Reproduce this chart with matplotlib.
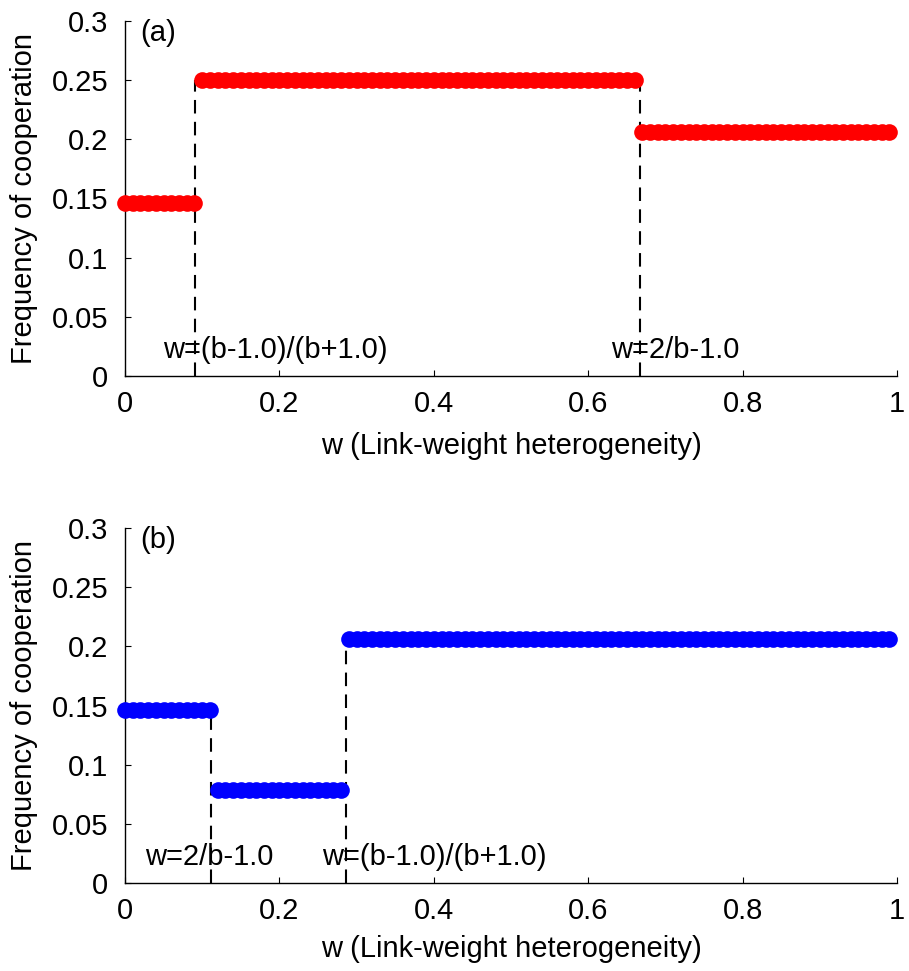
import numpy as np
import matplotlib
matplotlib.use("Agg")
import matplotlib.pyplot as plt

plt.rcParams['font.family'] = ['Liberation Sans', 'DejaVu Sans']

# w sampled at 0.00 .. 0.99 in steps of 0.01
w = np.arange(100) / 100.0

# panel (a): level of each plateau and number of points on it
a_levels = [0.146, 0.250, 0.206]
a_counts = [10, 57, 33]
a_crit = [0.0909, 0.6667]          # (b-1)/(b+1), 2/b-1 with b=1.2
a_labels = ["w=(b-1.0)/(b+1.0)", "w=2/b-1.0"]
a_label_x = [0.049, 0.63]

# panel (b)
b_levels = [0.146, 0.079, 0.206]
b_counts = [12, 17, 71]
b_crit = [0.1111, 0.2857]          # 2/b-1, (b-1)/(b+1) with b=1.8
b_labels = ["w=2/b-1.0", "w=(b-1.0)/(b+1.0)"]
b_label_x = [0.026, 0.255]

FS = 21

fig = plt.figure(figsize=(9.09, 9.71), dpi=100)
ax_a = fig.add_axes([0.1375, 0.6128, 0.8493, 0.3656])
ax_b = fig.add_axes([0.1375, 0.0906, 0.8493, 0.3656])


def draw(ax, levels, counts, crit, labels, label_x, color, tag, xlabelpad):
    y = np.repeat(levels, counts)
    ax.plot(w, y, 'o', color=color, markersize=12, markeredgewidth=0,
            clip_on=False, zorder=3)
    for i, c in enumerate(crit):
        top = max(levels[i], levels[i + 1])
        ax.plot([c, c], [0, top], color='black', linestyle=(0, (6.5, 4)),
                linewidth=1.5, zorder=2)
    for lx, txt in zip(label_x, labels):
        ax.text(lx, 0.022, txt, fontsize=FS, ha='left', va='center', zorder=4)
    ax.text(0.02, 0.29, tag, fontsize=FS, ha='left', va='center')

    ax.set_xlim(0, 1)
    ax.set_ylim(0, 0.3)
    ax.set_xticks([0, 0.2, 0.4, 0.6, 0.8, 1])
    ax.set_xticklabels(['0', '0.2', '0.4', '0.6', '0.8', '1'])
    ax.set_yticks([0, 0.05, 0.1, 0.15, 0.2, 0.25, 0.3])
    ax.set_yticklabels(['0', '0.05', '0.1', '0.15', '0.2', '0.25', '0.3'])
    ax.spines['top'].set_visible(False)
    ax.spines['right'].set_visible(False)
    for s in ('left', 'bottom'):
        ax.spines[s].set_linewidth(1.0)
    ax.tick_params(direction='in', length=4, width=0.8, labelsize=FS)
    ax.tick_params(axis='y', pad=12)
    ax.tick_params(axis='x', pad=10)
    ax.set_xlabel('w (Link-weight heterogeneity)', fontsize=FS, labelpad=xlabelpad)
    ax.set_ylabel('Frequency of cooperation', fontsize=FS, labelpad=10)


draw(ax_a, a_levels, a_counts, a_crit, a_labels, a_label_x, '#ff0000', '(a)', 10)
draw(ax_b, b_levels, b_counts, b_crit, b_labels, b_label_x, '#0000ff', '(b)', 7)

fig.savefig('out.png', dpi=100)
